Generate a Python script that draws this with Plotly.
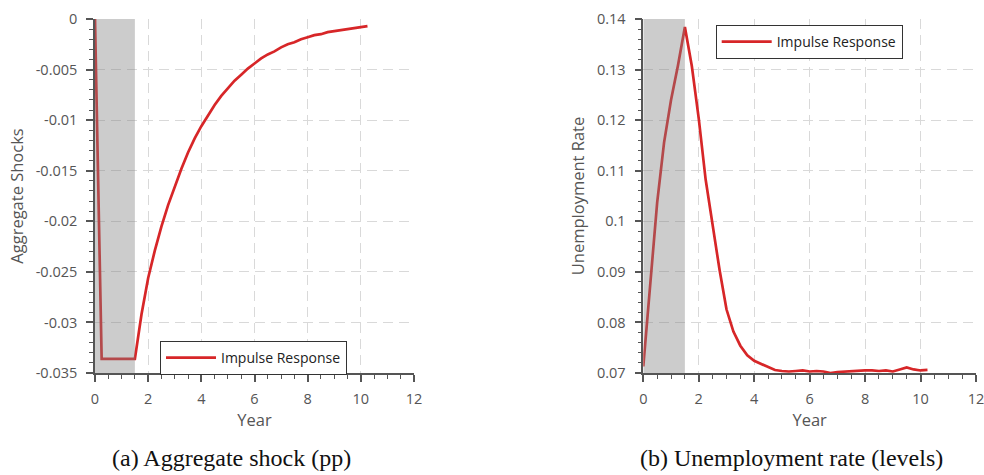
import plotly.graph_objects as go

# ---------------- data ----------------
years = [0.0, 0.25, 0.5, 0.75, 1.0, 1.25, 1.5, 1.75, 2.0, 2.25, 2.5, 2.75,
         3.0, 3.25, 3.5, 3.75, 4.0, 4.25, 4.5, 4.75, 5.0, 5.25, 5.5, 5.75,
         6.0, 6.25, 6.5, 6.75, 7.0, 7.25, 7.5, 7.75, 8.0, 8.25, 8.5, 8.75,
         9.0, 9.25, 9.5, 9.75, 10.0, 10.25]

aggregate_shock = [0.0, -0.0336, -0.0336, -0.0336, -0.0336, -0.0336, -0.0336,
                   -0.0292, -0.0256, -0.0229, -0.0205, -0.0184, -0.0165,
                   -0.0148, -0.0132, -0.0118, -0.0106, -0.0095, -0.0085,
                   -0.0076, -0.0068, -0.0061, -0.0055, -0.0049, -0.0044,
                   -0.0039, -0.0035, -0.0032, -0.0028, -0.0025, -0.0023,
                   -0.0020, -0.0018, -0.0016, -0.0015, -0.0013, -0.0012,
                   -0.0011, -0.0010, -0.0009, -0.0008, -0.0007]

unemployment = [0.0713, 0.0868, 0.1037, 0.1156, 0.1240, 0.1308, 0.1384,
                0.1307, 0.1203, 0.1082, 0.0990, 0.0904, 0.0826, 0.0782,
                0.0754, 0.0735, 0.0724, 0.0718, 0.0711, 0.0706, 0.0704,
                0.0703, 0.0704, 0.0705, 0.0703, 0.0704, 0.0703, 0.0700,
                0.0702, 0.0703, 0.0704, 0.0705, 0.0705, 0.0705, 0.0704,
                0.0705, 0.0703, 0.0707, 0.0711, 0.0707, 0.0705, 0.0706]

shock_start, shock_end = 0.0, 1.5

x_tickvals = [0, 2, 4, 6, 8, 10, 12]
x_ticktext = ["0", "2", "4", "6", "8", "10", "12"]
ya_tickvals = [0, -0.005, -0.01, -0.015, -0.02, -0.025, -0.03, -0.035]
ya_ticktext = ["0", "-0.005", "-0.01", "-0.015", "-0.02", "-0.025", "-0.03", "-0.035"]
yb_tickvals = [0.07, 0.08, 0.09, 0.10, 0.11, 0.12, 0.13, 0.14]
yb_ticktext = ["0.07", "0.08", "0.09", "0.1", "0.11", "0.12", "0.13", "0.14"]

series_name = "Impulse Response"
caption_a = "(a) Aggregate shock (pp)"
caption_b = "(b) Unemployment rate (levels)"

# ---------------- style ----------------
W, H = 984, 475
RED = "rgb(215,38,40)"
AXIS = "#555555"
GRID = "#d9d9d9"
FONT = "Open Sans"
TICK_SIZE = 14.5
TITLE_SIZE = 16.5

fig = go.Figure()
fig.add_trace(go.Scatter(x=years, y=aggregate_shock, mode="lines", name=series_name,
                         line=dict(color=RED, width=2.7), xaxis="x", yaxis="y",
                         legend="legend"))
fig.add_trace(go.Scatter(x=years, y=unemployment, mode="lines", name=series_name,
                         line=dict(color=RED, width=2.7), xaxis="x2", yaxis="y2",
                         legend="legend2"))

def xax(domain, anchor):
    return dict(domain=domain, anchor=anchor, range=[0, 12], automargin=False,
                tickvals=x_tickvals, ticktext=x_ticktext, ticklabeloverflow="allow",
                ticks="outside", ticklen=7, tickwidth=1.5, tickcolor=AXIS,
                showline=True, linecolor=AXIS, linewidth=1.5,
                showgrid=True, gridcolor=GRID, gridwidth=1, griddash="10px,6px",
                zeroline=False, tickfont=dict(family=FONT, size=TICK_SIZE, color="#555"),
                ticklabelstandoff=5,
                minor=dict(dtick=0.5, tick0=0, ticks="outside", ticklen=4,
                           tickcolor=AXIS, tickwidth=1.2, showgrid=False),
                title=dict(text="Year", standoff=5,
                           font=dict(family=FONT, size=TITLE_SIZE, color="#555")))

def yax(domain, anchor, rng, tv, tt, mdt, title, standoff):
    return dict(domain=domain, anchor=anchor, range=rng, automargin=False,
                tickvals=tv, ticktext=tt, ticklabeloverflow="allow",
                ticks="outside", ticklen=7, tickwidth=1.5, tickcolor=AXIS,
                showline=True, linecolor=AXIS, linewidth=1.5,
                showgrid=True, gridcolor=GRID, gridwidth=1, griddash="10px,6px",
                zeroline=False, tickfont=dict(family=FONT, size=TICK_SIZE, color="#555"),
                ticklabelstandoff=6,
                minor=dict(dtick=mdt, tick0=0, ticks="outside", ticklen=4,
                           tickcolor=AXIS, tickwidth=1.2, showgrid=False),
                title=dict(text=title, standoff=standoff,
                           font=dict(family=FONT, size=TITLE_SIZE, color="#555")))

ydom = [(H - 373) / H, (H - 19) / H]
fig.update_layout(
    width=W, height=H,
    margin=dict(l=0, r=0, t=0, b=0),
    paper_bgcolor="white", plot_bgcolor="white",
    font=dict(family=FONT, size=14, color="#333"),
    xaxis=xax([95 / W, 414 / W], "y"),
    yaxis=yax(ydom, "x", [-0.035, 0], ya_tickvals, ya_ticktext, 0.001,
              "Aggregate Shocks", 8),
    xaxis2=xax([643.3 / W, 976 / W], "y2"),
    yaxis2=yax(ydom, "x2", [0.07, 0.14], yb_tickvals, yb_ticktext, 0.002,
               "Unemployment Rate", 8),
    legend=dict(x=160 / W, y=(H - 341) / H, xanchor="left", yanchor="top",
                bgcolor="white", bordercolor="#333", borderwidth=1, itemwidth=50,
                font=dict(family=FONT, size=14, color="#222")),
    legend2=dict(x=715.7 / W, y=(H - 25) / H, xanchor="left", yanchor="top",
                 bgcolor="white", bordercolor="#333", borderwidth=1, itemwidth=50,
                 font=dict(family=FONT, size=14, color="#222")),
    showlegend=True,
)

for xr in ("x", "x2"):
    yr = "y" if xr == "x" else "y2"
    fig.add_shape(type="rect", xref=xr, yref=yr + " domain",
                  x0=shock_start, x1=shock_end, y0=0, y1=1,
                  fillcolor="rgba(128,128,128,0.4)", line=dict(width=0),
                  layer="above")

fig.add_annotation(text=caption_a, xref="paper", yref="paper",
                   x=231 / W, y=(H - 458) / H, xanchor="center", yanchor="middle",
                   showarrow=False, borderpad=0,
                   font=dict(family="Liberation Serif", size=24, color="#111"))
fig.add_annotation(text=caption_b, xref="paper", yref="paper",
                   x=791.7 / W, y=(H - 458) / H, xanchor="center", yanchor="middle",
                   showarrow=False, borderpad=0,
                   font=dict(family="Liberation Serif", size=24, color="#111"))

fig.write_html("out.html", config={"displayModeBar": False},
               post_script="document.body.style.margin='0';"
                           "document.body.style.overflow='hidden';")
